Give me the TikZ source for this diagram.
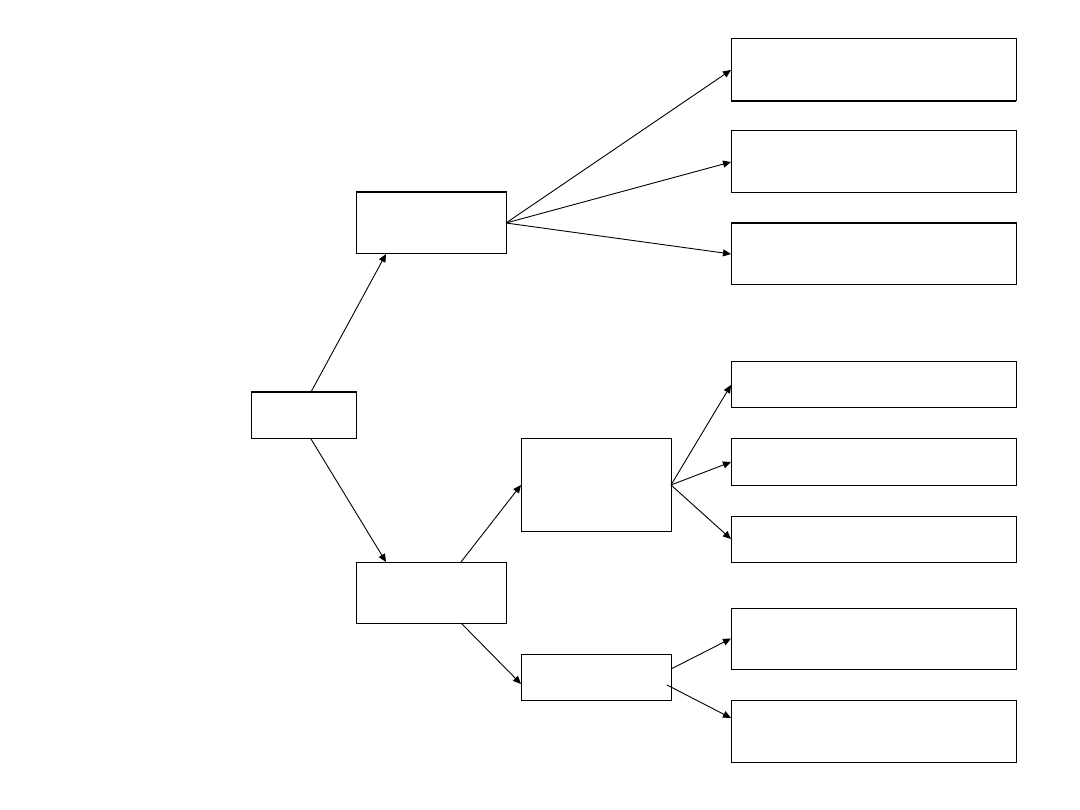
\documentclass[tikz,border=0pt]{standalone}
\usetikzlibrary{arrows.meta,calc}
\begin{document}
\begin{tikzpicture}[x=1pt,y=-1pt,line width=1pt,
  box/.style={draw,rectangle,inner sep=0pt,outer sep=0pt,line width=1pt},
  conn/.style={-{Triangle[length=8pt,width=7pt]},line width=0.9pt}]
\useasboundingbox (0,0) rectangle (1080,810);
% boxes: center x, center y, width, height
\node[box,minimum width=105pt,minimum height=47pt] (root) at (303.5,415.5) {};
\node[box,minimum width=150pt,minimum height=62pt] (A) at (431,223) {};
\node[box,minimum width=150pt,minimum height=61pt] (B) at (431,592.5) {};
\node[box,minimum width=150pt,minimum height=92pt] (C) at (596,485) {};
\node[box,minimum width=150pt,minimum height=46pt] (D) at (596,677) {};
\node[box,minimum width=285pt,minimum height=62pt] (R1) at (873.5,70) {};
\node[box,minimum width=285pt,minimum height=62pt] (R2) at (873.5,162) {};
\node[box,minimum width=285pt,minimum height=62pt] (R3) at (873.5,254) {};
\node[box,minimum width=285pt,minimum height=46pt] (R4) at (873.5,385) {};
\node[box,minimum width=285pt,minimum height=46pt] (R5) at (873.5,462) {};
\node[box,minimum width=285pt,minimum height=46pt] (R6) at (873.5,539) {};
\node[box,minimum width=285pt,minimum height=61pt] (R7) at (873.5,638.5) {};
\node[box,minimum width=285pt,minimum height=62pt] (R8) at (873.5,731) {};
% thicker edges
\draw[line width=2pt] (root.north west) -- (root.north east);
\draw[line width=2pt] (A.north west) -- (A.north east);
\draw[line width=2pt] (R1.south west) -- (R1.south east);
\draw[line width=2pt] (R3.north west) -- (R3.north east);
% connector end points
\coordinate (rootT) at (311,392);
\coordinate (rootB) at (311,439);
\coordinate (AB) at (386,254);
\coordinate (BT) at (386,562);
\coordinate (BT2) at (461,562);
\coordinate (BB) at (461,623);
\coordinate (Din) at (521,684);
\coordinate (R8in) at (731,718);
\coordinate (Dout1) at (671,669);
\coordinate (Dout2) at (667,685);
\draw[conn] (rootT) -- (AB);
\draw[conn] (rootB) -- (BT);
\draw[conn] (A.east) -- (R1.west);
\draw[conn] (A.east) -- (R2.west);
\draw[conn] (A.east) -- (R3.west);
\draw[conn] (BT2) -- (C.west);
\draw[conn] (BB) -- (Din);
\draw[conn] (C.east) -- (R4.west);
\draw[conn] (C.east) -- (R5.west);
\draw[conn] (C.east) -- (R6.west);
\draw[conn] (Dout1) -- (R7.west);
\draw[conn] (Dout2) -- (R8in);
\end{tikzpicture}
\end{document}
